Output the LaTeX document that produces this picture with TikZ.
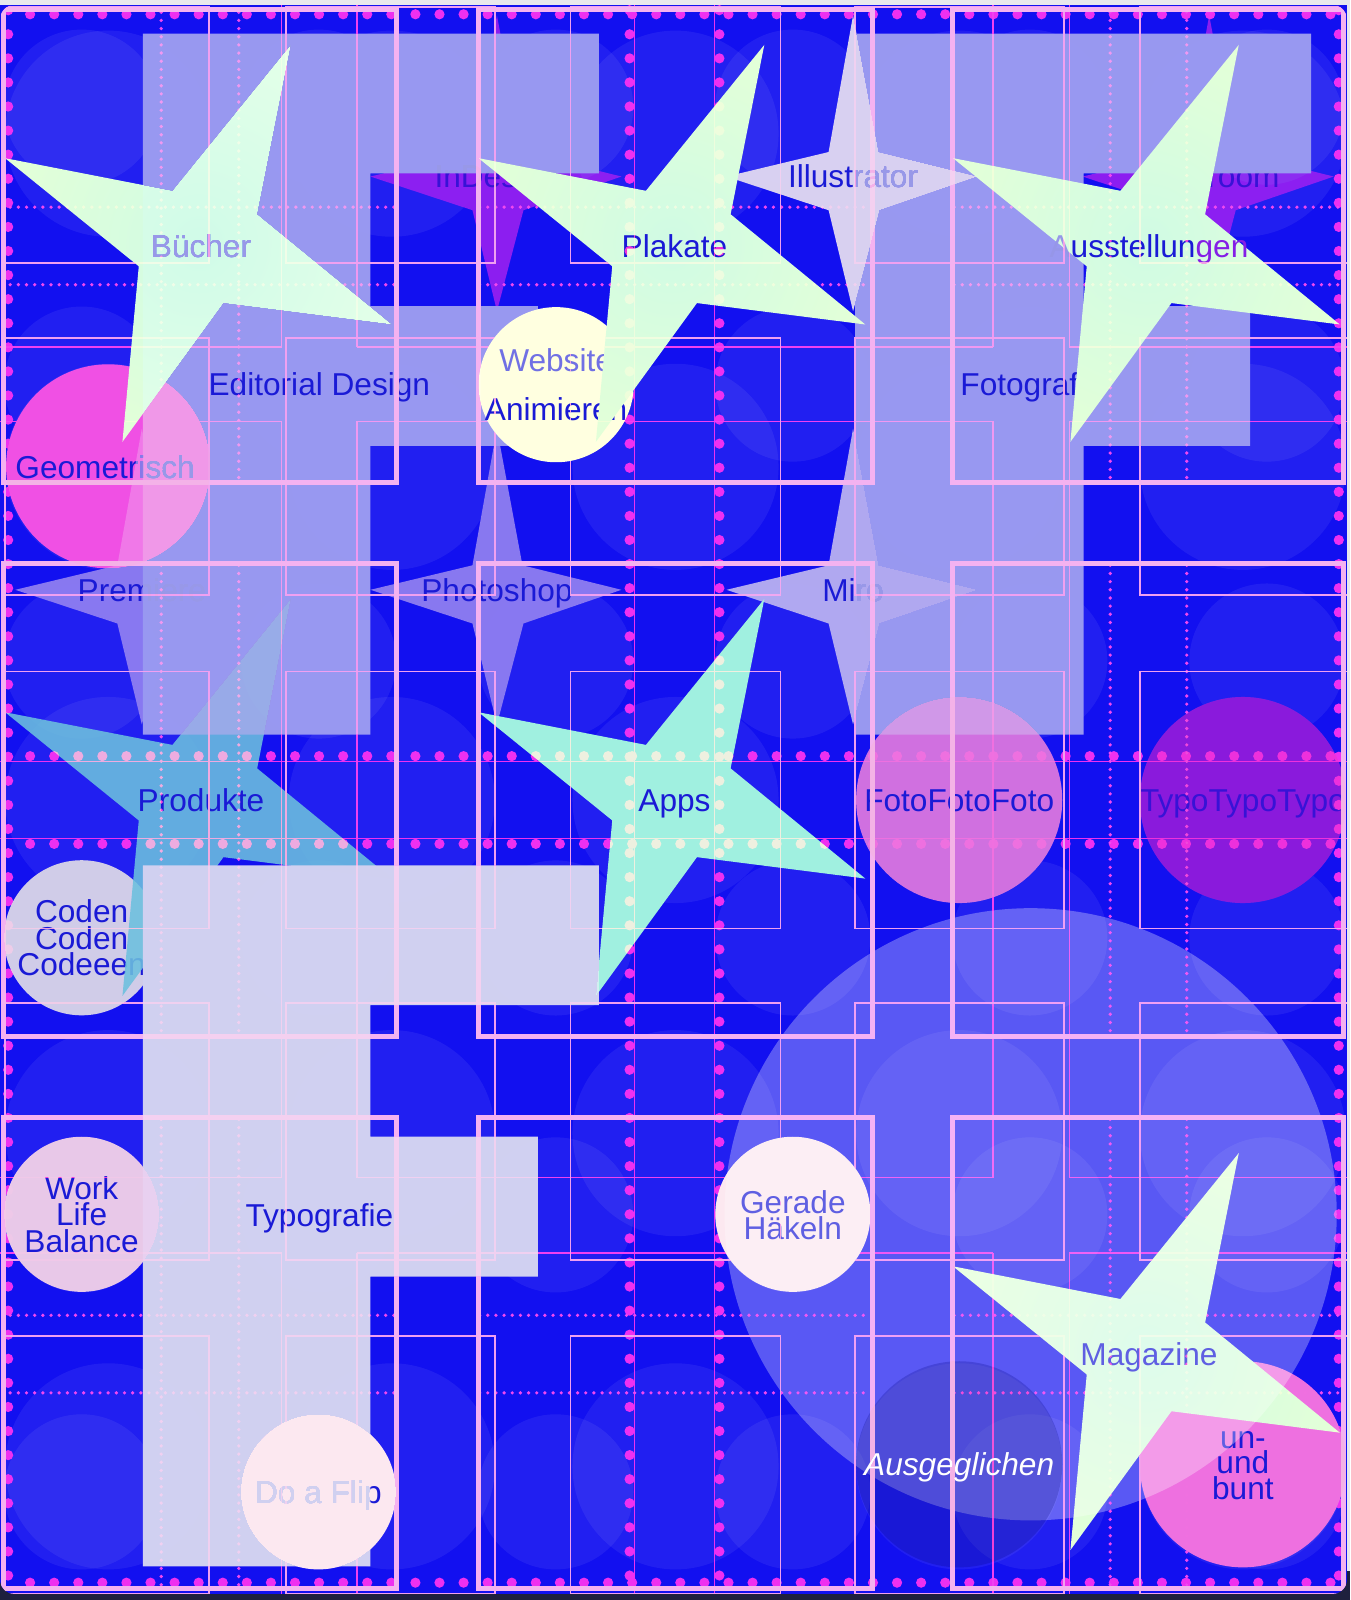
\documentclass[tikz,border=0pt]{standalone}
\usepackage{fontspec}
\setmainfont{Liberation Sans}
\definecolor{bgblue}{RGB}{18,16,240}
\definecolor{outergray}{RGB}{232,232,236}
\definecolor{navyc}{RGB}{30,32,62}
\definecolor{tblue}{RGB}{26,26,214}
\definecolor{tdeep}{RGB}{56,18,214}
\definecolor{tlav}{RGB}{150,150,232}
\definecolor{tpurp}{RGB}{132,30,230}
\definecolor{twebs}{RGB}{112,112,228}
\definecolor{flav}{RGB}{152,152,232}
\definecolor{flight}{RGB}{208,208,240}
\definecolor{mintin}{RGB}{208,251,228}
\definecolor{mintout}{RGB}{226,255,216}
\definecolor{prodc}{RGB}{108,192,222}
\definecolor{appc}{RGB}{160,240,224}
\definecolor{purp}{RGB}{140,30,240}
\definecolor{illc}{RGB}{216,208,240}
\definecolor{psc}{RGB}{136,120,232}
\definecolor{miroc}{RGB}{176,168,240}
\definecolor{geoc}{RGB}{240,80,228}
\definecolor{webc}{RGB}{255,255,224}
\definecolor{codc}{RGB}{208,204,232}
\definecolor{fotoc}{RGB}{208,112,224}
\definecolor{typoc}{RGB}{138,26,220}
\definecolor{workc}{RGB}{232,200,232}
\definecolor{paled}{RGB}{252,232,240}
\definecolor{bunc}{RGB}{238,112,224}
\definecolor{darkc}{RGB}{0,0,120}
\definecolor{framec}{RGB}{244,178,230}
\definecolor{alinec}{RGB}{240,160,224}
\definecolor{blinec}{RGB}{240,64,210}
\definecolor{dotc}{RGB}{240,72,220}
\definecolor{scalc}{RGB}{238,48,216}
\newcommand\BigStar[3]{\path[shift={(#2,#3)},#1] (88,-197) -- (55,-31) -- (187,77) -- (22,56) -- (-77,192) -- (-61,20) -- (-192,-86) -- (-28,-54) -- cycle;}
\newcommand\ThinStar[3]{\path[shift={(#2,#3)},#1] (0,-158) -- (25,-24) -- (122,0) -- (26,33) -- (0,132) -- (-24,33) -- (-124,0) -- (-24,-24) -- cycle;}
\begin{document}
\begin{tikzpicture}[x=0.5pt,y=-0.5pt,
  lbl/.style={font=\fontsize{15.5pt}{18pt}\selectfont, text=tblue, inner sep=0pt, align=center},
  one/.style={lbl, text height=11pt, text depth=0pt},
  tight/.style={font=\fontsize{15.5pt}{13pt}\selectfont},
  mintstar/.style={shade, inner color=mintin, outer color=mintout},
  faint/.style={fill=white, fill opacity=0.065},
  aline/.style={draw=alinec, line width=0.8pt},
  bline/.style={draw=blinec, line width=0.7pt},
  sdots/.style={draw=dotc, line width=1.8pt, line cap=round, dash pattern=on 0pt off 4pt},
  scline/.style={draw=scalc, line width=0.6pt},
  scdot/.style={fill=scalc},
  framebox/.style={draw=framec, line width=2.5pt}]
\useasboundingbox (0,0) rectangle (1323,1568);
\fill[outergray] (0,0) rectangle (1323,1568);
\fill[navyc] (0,1540) rectangle (1323,1568);
\fill[bgblue,rounded corners=7pt] (0,5) rectangle (1320,1562);
\fill[bgblue] (0,5) rectangle (1320,300);
\begin{scope}
\clip[rounded corners=7pt] (0,5) rectangle (1320,1562);
% faint background circles
\foreach \i in {0,...,5} \foreach \j in {0,...,5} \fill[faint] ({80+232.3*\i},{105+271.4*\j}) circle[radius=76];
\foreach \i in {0,...,4} \foreach \j in {0,...,4} \fill[faint] ({106+278*\i},{131+326.5*\j}) circle[radius=101];
% circles
\fill[geoc] (106,457) circle[radius=100];
\node[one] (geo) at (103,458) {Geometrisch};
\fill[codc] (80,919) circle[radius=76];
\node[lbl,tight] (cod) at (80,919) {Coden\\Coden\\Codeeen};
\fill[fotoc] (940,784) circle[radius=101];
\node[one] (foto) at (940,784) {FotoFotoFoto};
\fill[typoc] (1218,784) circle[radius=101];
\node[one,text=tdeep] (typo) at (1218,784) {TypoTypoTypo};
\fill[workc] (80,1190) circle[radius=76];
\node[lbl,tight] (work) at (80,1190) {Work\\Life\\Balance};
\fill[paled] (777,1190) circle[radius=76];
\node[lbl,tight] (gerade) at (777,1191) {Gerade\\Häkeln};
\fill[paled] (312,1462) circle[radius=76];
\node[one] (flip) at (312,1462) {Do a Flip};
\fill[bunc] (1218,1435) circle[radius=101];
\node[lbl,font=\fontsize{15.5pt}{12.5pt}\selectfont] (bunt) at (1218,1436) {un-\\und\\bunt};
% narrow stars
\begin{scope}[blend mode=lighten]
\ThinStar{fill=purp}{487}{173}
\ThinStar{fill=purp}{1185}{173}
\ThinStar{fill=illc}{836}{173}
\ThinStar{fill=psc}{139}{578}
\ThinStar{fill=psc}{487}{578}
\ThinStar{fill=miroc}{836}{578}
\end{scope}
\node[one,text=tdeep] (indesign) at (487,173) {InDesign};
\node[one,text=tdeep] (lightroom) at (1185,173) {Lightroom};
\node[one] (illustrator) at (836,173) {Illustrator};
\node[one] (premiere) at (139,578) {Premiere};
\node[one] (photoshop) at (487,578) {Photoshop};
\node[one] (miro) at (836,578) {Miro};
% big stars (first group)
\BigStar{mintstar}{197}{241}
\node[one] (buecher) at (197,241) {Bücher};
\BigStar{fill=prodc,fill opacity=0.88}{197}{784}
\node[one] (produkte) at (197,784) {Produkte};
\BigStar{fill=appc}{661}{784}
\node[one] (apps) at (661,784) {Apps};
\BigStar{mintstar}{1126}{1327}
\node[one] (magazine) at (1126,1327) {Magazine};
% big translucent circle and dark circle
\fill[white,fill opacity=0.3] (1010,1190) circle[radius=300];
\fill[darkc,fill opacity=0.22] (940,1435) circle[radius=101];
\node[one,text=white,font=\fontsize{15.5pt}{18pt}\selectfont\itshape] (ausg) at (940,1435) {Ausgeglichen};
% F shapes
\begin{scope}[blend mode=lighten]
\fill[flav] (140,33) -- (587,33) -- (587,170) -- (363,170) -- (363,300) -- (527,300) -- (527,437) -- (363,437) -- (363,720) -- (140,720) -- cycle;
\fill[flav] (838,33) -- (1285,33) -- (1285,170) -- (1062,170) -- (1062,300) -- (1225,300) -- (1225,437) -- (1062,437) -- (1062,720) -- (838,720) -- cycle;
\fill[flight] (140,848) -- (587,848) -- (587,985) -- (363,985) -- (363,1114) -- (527,1114) -- (527,1251) -- (363,1251) -- (363,1535) -- (140,1535) -- cycle;
\end{scope}
\node[one] (editorial) at (313,377) {Editorial Design};
\node[one] (fotografie) at (1011,377) {Fotografie};
\node[one] (typografie) at (313,1191) {Typografie};
% website circle
\fill[webc] (545,377) circle[radius=76];
\node[lbl,font=\fontsize{15.5pt}{24pt}\selectfont] (website) at (545,377) {\textcolor{twebs}{Website}\\Animieren};
% big stars (second group)
\BigStar{mintstar}{661}{241}
\node[one] (plakate) at (661,241) {Plakate};
\BigStar{mintstar}{1126}{241}
\node[one] (ausst) at (1126,241) {\textcolor{tlav}{A}usstellun\textcolor{tpurp}{gen}};
% line work
\begin{scope}[blend mode=lighten]
\foreach \xa/\xb in {5/205,280/485,559/765,838/1043,1117/1322}
  \foreach \ya/\yb in {7/258,331/583,658/910,983/1235,1309/1562}
    \draw[aline] (\xa,\ya) rectangle (\xb,\yb);
\foreach \yy in {340,413,1154,1228} {
  \draw[bline] (0,\yy) -- (276,\yy);
  \draw[bline] (350,\yy) -- (973,\yy);
  \draw[bline] (1048,\yy) -- (1320,\yy);
}
\foreach \xx in {276,350,973,1048} {
  \draw[bline] (\xx,0) -- (\xx,340);
  \draw[bline] (\xx,413) -- (\xx,1154);
  \draw[bline] (\xx,1228) -- (\xx,1562);
}
\foreach \yy in {203,279,1289,1365}
  \foreach \xa/\xb in {10/388,470/853,935/1314}
    \draw[sdots] (\xa,\yy) -- (\xb,\yy);
\foreach \xx in {158,234,1088,1163}
  \foreach \ya/\yb in {12/471,554/1014,1097/1555}
    \draw[sdots] (\xx,\ya) -- (\xx,\yb);
\draw[scline] (622,0) -- (622,1562);
\draw[scline] (700,0) -- (700,1562);
\draw[scline] (0,746) -- (1320,746);
\draw[scline] (0,822) -- (1320,822);
\foreach \k in {0,...,66} {
  \fill[scdot] (617,{10+23.6*\k}) circle[radius=5];
  \fill[scdot] (705,{10+23.6*\k}) circle[radius=5];
  \fill[scdot] (8,{10+23.6*\k}) circle[radius=5];
  \fill[scdot] (1312,{10+23.6*\k}) circle[radius=5];
}
\foreach \k in {0,...,55} {
  \fill[scdot] ({29.5+23.6*\k},741) circle[radius=5];
  \fill[scdot] ({29.5+23.6*\k},827) circle[radius=5];
  \fill[scdot] ({29.5+23.6*\k},14) circle[radius=5];
  \fill[scdot] ({29.5+23.6*\k},1551) circle[radius=5];
}
\foreach \xa/\xb in {3/389,469/855,933/1317}
  \foreach \ya/\yb in {9/473,552/1016,1095/1557}
    \draw[framebox] (\xa,\ya) rectangle (\xb,\yb);
\end{scope}
\end{scope}
\end{tikzpicture}
\end{document}
